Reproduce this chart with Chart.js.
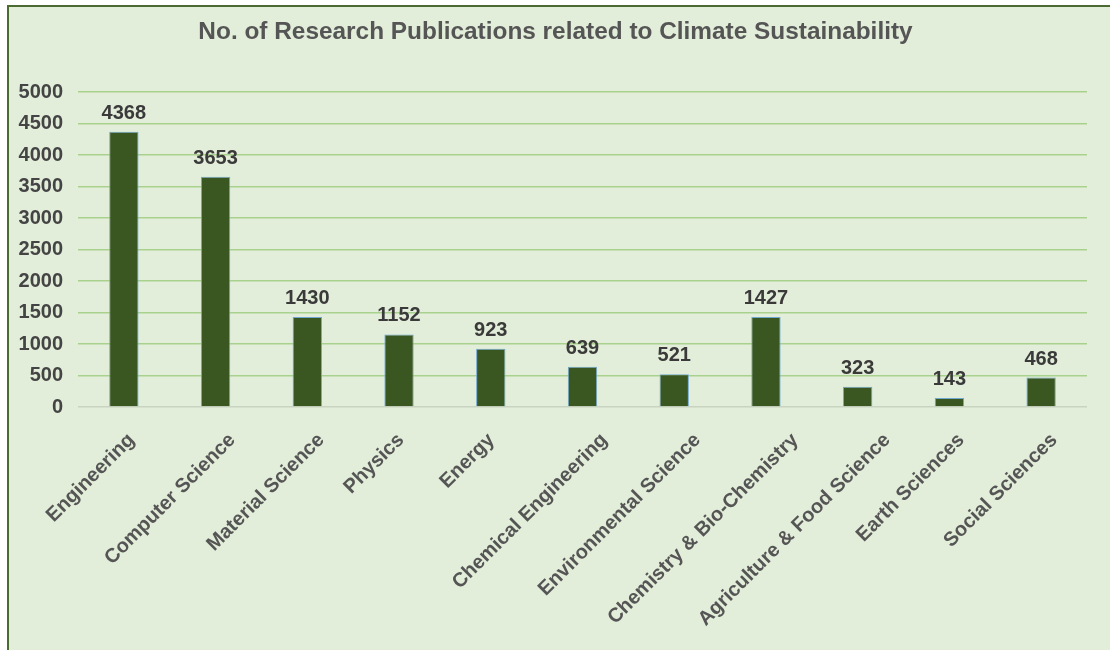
<!DOCTYPE html>
<html>
<head>
<meta charset="utf-8">
<script src="https://cdn.jsdelivr.net/npm/chart.js@4"></script>
<style>
    html, body { margin: 0; padding: 0; background: #ffffff; }
    #frame {
        position: absolute;
        left: 7px;
        top: 5px;
        width: 1103px;
        height: 645px;
        border-left: 2px solid #4b6b30;
        border-top: 2px solid #4b6b30;
        background: #e2eed9;
    }
    #pubChart { display: block; }
</style>
</head>
<body>
<div id="frame">
    <canvas id="pubChart" width="1101" height="643"></canvas>
</div>
<script>
const chartTitle = "No. of Research Publications related to Climate Sustainability";
const categories = [
    "Engineering", "Computer Science", "Material Science", "Physics", "Energy",
    "Chemical Engineering", "Environmental Science", "Chemistry & Bio-Chemistry",
    "Agriculture & Food Science", "Earth Sciences", "Social Sciences"
];
const publications = [4368, 3653, 1430, 1152, 923, 639, 521, 1427, 323, 143, 468];
const yTicks = [0, 500, 1000, 1500, 2000, 2500, 3000, 3500, 4000, 4500, 5000];

const fontFamily = "'Liberation Sans', Arial, sans-serif";

// title, centred a little right of the canvas middle like the original
const titleText = {
    id: "titleText",
    afterDraw(chart) {
        let ctx = chart.ctx;
        ctx.save();
        ctx.font = "bold 24.4px " + fontFamily;
        ctx.fillStyle = "#555555";
        ctx.textAlign = "center";
        ctx.textBaseline = "middle";
        ctx.fillText(chartTitle, (chart.width - 8) / 2, 25);
        ctx.restore();
    }
};

// value labels above each bar
const valueLabels = {
    id: "valueLabels",
    afterDatasetsDraw(chart) {
        let ctx = chart.ctx;
        let meta = chart.getDatasetMeta(0);
        ctx.save();
        ctx.font = "bold 20px " + fontFamily;
        ctx.fillStyle = "#3a3a3a";
        ctx.textAlign = "center";
        ctx.textBaseline = "alphabetic";
        meta.data.forEach((bar, i) => {
            ctx.fillText(String(publications[i]), bar.x, bar.y - 13);
        });
        ctx.restore();
    }
};

// slanted category labels, placed the way the spreadsheet does it
// (longer labels sit a bit further right of their tick)
const slantedLabels = {
    id: "slantedLabels",
    afterDraw(chart) {
        let ctx = chart.ctx;
        let xs = chart.scales.x;
        let top = chart.chartArea.bottom + 23;
        ctx.save();
        ctx.font = "bold 20px " + fontFamily;
        ctx.fillStyle = "#555555";
        ctx.textAlign = "right";
        ctx.textBaseline = "top";
        categories.forEach((label, i) => {
            let w = ctx.measureText(label).width;
            let dx = w * 0.7071 + 10;
            let x = xs.getPixelForTick(i) + 0.21 * dx - 18.6;
            ctx.save();
            ctx.translate(x, top);
            ctx.rotate(-Math.PI / 4);
            ctx.fillText(label, 0, 0);
            ctx.restore();
        });
        ctx.restore();
    }
};

new Chart("pubChart", {
    type: "bar",
    data: {
        labels: categories,
        datasets: [{
            data: publications,
            backgroundColor: "#3a5722",
            borderColor: "#6fa8d0",
            borderWidth: 1,
            barPercentage: 0.32,
            categoryPercentage: 1
        }]
    },
    options: {
        responsive: false,
        animation: false,
        layout: { padding: { left: 0, right: 23, top: 85, bottom: 0 } },
        plugins: {
            legend: { display: false },
            tooltip: { enabled: false },
            title: { display: false }
        },
        scales: {
            y: {
                min: 0,
                max: 5000,
                afterBuildTicks: (axis) => { axis.ticks = yTicks.map(v => ({ value: v })); },
                afterFit: (axis) => { axis.width = 69; },
                border: { display: false },
                grid: {
                    color: (c) => c.tick.value === 0 ? "#c9d3c2" : "#a9d18e",
                    lineWidth: 1.5,
                    drawTicks: false
                },
                ticks: {
                    color: "#444444",
                    padding: 15,
                    callback: (v) => String(v),
                    font: { family: fontFamily, size: 20, weight: "bold" }
                }
            },
            x: {
                afterFit: (axis) => { axis.height = 243; },
                border: { display: false },
                grid: { display: false },
                ticks: { display: false }
            }
        }
    },
    plugins: [titleText, valueLabels, slantedLabels]
});
</script>
</body>
</html>
